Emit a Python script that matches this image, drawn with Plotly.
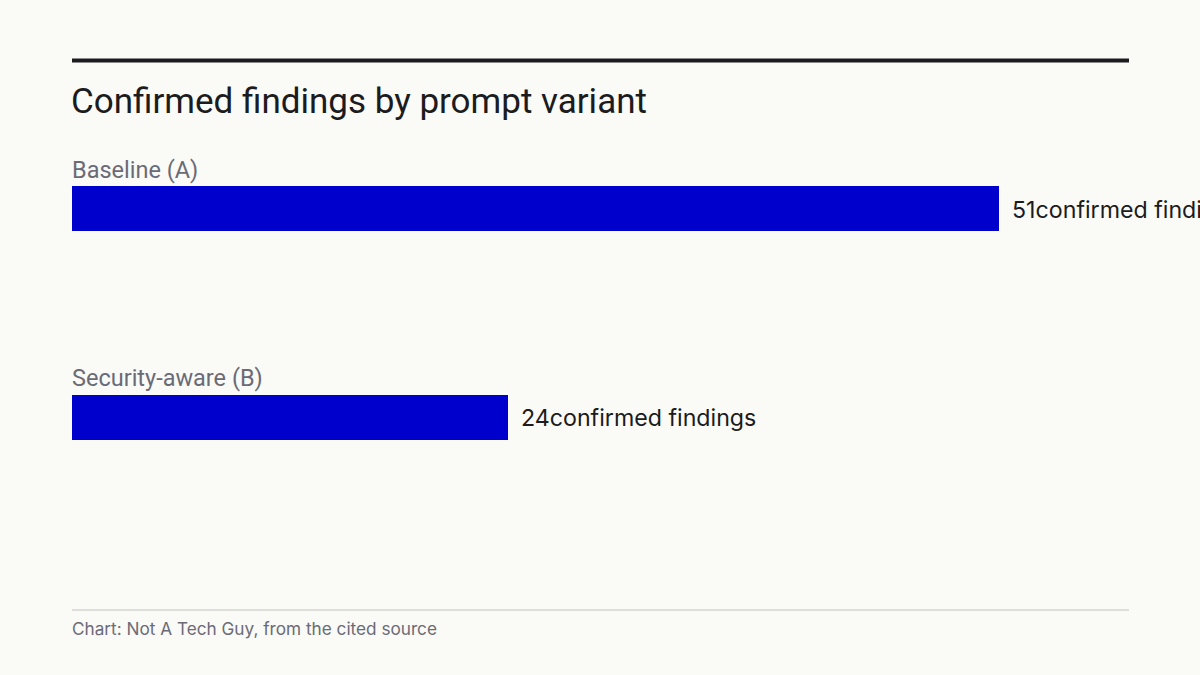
import plotly.graph_objects as go

# data
variants = ["Baseline (A)", "Security-aware (B)"]
findings = [51, 24]
value_suffix = "confirmed findings"

title_text = "Confirmed findings by prompt variant"
source_text = "Chart: Not A Tech Guy, from the cited source"

BG = "#fafaf7"
BAR = "#0000cc"
INK = "#1b1b20"
MUTED = "#6b6b76"

H = 675


def py(px):
    # pixel from top -> paper y
    return 1 - px / H


fig = go.Figure(go.Bar(
    x=findings,
    y=variants,
    orientation="h",
    marker=dict(color=BAR, line=dict(width=0)),
    width=0.2153,
    hoverinfo="skip",
))

# category labels above each bar
for v in variants:
    fig.add_annotation(x=0, y=v, xref="x", yref="y", text=v,
                       xanchor="left", yanchor="middle", yshift=39, xshift=-2,
                       showarrow=False,
                       font=dict(family="Roboto", size=23.5, color=MUTED))

# value labels at bar ends
for v, n in zip(variants, findings):
    fig.add_annotation(x=n, y=v, xref="x", yref="y", text=f"{n}{value_suffix}",
                       xanchor="left", yanchor="middle", xshift=11, yshift=-1,
                       showarrow=False,
                       font=dict(family="Inter", size=23.2, color=INK))

# title
fig.add_annotation(x=0, y=py(101), xref="paper", yref="paper", text=title_text,
                   xanchor="left", yanchor="middle", xshift=-3, showarrow=False,
                   font=dict(family="Roboto", size=35, color=INK))

# source line
fig.add_annotation(x=0, y=py(628), xref="paper", yref="paper", text=source_text,
                   xanchor="left", yanchor="middle", xshift=-2, showarrow=False,
                   font=dict(family="Inter", size=17.2, color=MUTED))

# top rule and footer rule
fig.add_shape(type="line", xref="paper", yref="paper", x0=0, x1=1,
              y0=py(60.5), y1=py(60.5), line=dict(color=INK, width=4))
fig.add_shape(type="line", xref="paper", yref="paper", x0=0, x1=1,
              y0=py(610), y1=py(610), line=dict(color="#d4d4d0", width=1.5))

fig.update_xaxes(range=[0, max(findings) * 1.14], visible=False, fixedrange=True)
fig.update_yaxes(type="category", categoryorder="array", categoryarray=variants,
                 range=[2.2321, -0.9976], visible=False, fixedrange=True)

fig.update_layout(
    width=1200, height=H,
    paper_bgcolor=BG, plot_bgcolor=BG,
    margin=dict(l=72, r=71, t=0, b=0, pad=0),
    showlegend=False,
    bargap=0,
)

fig.write_html("out.html", config={"displayModeBar": False},
               post_script="document.body.style.margin='0';"
                           "document.body.style.overflow='hidden';"
                           f"document.body.style.background='{BG}';")
